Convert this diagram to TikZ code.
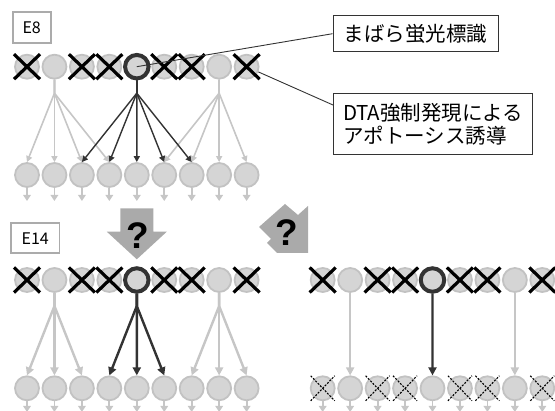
\documentclass[tikz,border=0pt]{standalone}
\usepackage{fontspec}
\setmainfont{Noto Sans CJK JP}
\newfontfamily\qfont{Liberation Sans}
\usetikzlibrary{arrows.meta,calc}
\definecolor{cellfill}{HTML}{D5D5D5}
\definecolor{celldraw}{HTML}{C2C2C2}
\definecolor{darkc}{HTML}{333333}
\definecolor{lgray}{HTML}{C6C6C6}
\definecolor{boxgray}{HTML}{ABABAB}
\definecolor{bigarrow}{HTML}{AAAAAA}
\begin{document}
\begin{tikzpicture}[x=1pt,y=-1pt,
  cell/.style={circle,fill=cellfill,draw=celldraw,line width=1.8pt,minimum size=24pt,inner sep=0pt},
  focus/.style={circle,fill=cellfill,draw=darkc,line width=4pt,minimum size=23.5pt,inner sep=0pt},
  xmark/.style={draw=black,line width=3.2pt},
  dxmark/.style={draw=black,line width=1.1pt,dash pattern=on 2pt off 1.4pt},
  garrow/.style={draw=lgray,line width=1.6pt,-{Triangle[length=6pt,width=6pt]}},
  darrow/.style={draw=darkc,line width=1.4pt,-{Triangle[length=6pt,width=6pt]}},
  gbarrow/.style={draw=lgray,line width=2.4pt,-{Triangle[length=8pt,width=8pt]}},
  dbarrow/.style={draw=darkc,line width=2.4pt,-{Triangle[length=8pt,width=8pt]}},
  stub/.style={draw=lgray,line width=1.8pt,-{Triangle[length=6pt,width=7.5pt]}},
  ebox/.style={draw=boxgray,line width=1.6pt,fill=white,inner sep=0pt,font=\fontsize{16}{18}\selectfont},
  lbox/.style={draw=darkc,line width=1.3pt,fill=white,inner sep=0pt,font=\fontsize{20.5}{23.5}\selectfont},
  leader/.style={draw=darkc,line width=0.9pt},
  qmark/.style={font=\qfont\bfseries\fontsize{37}{40}\selectfont,inner sep=0pt}
]
\useasboundingbox (0,0) rectangle (555,411);

% ---------------- top panel (E8) ----------------
\foreach \i in {0,...,8}{
  \pgfmathsetmacro\xx{27+27.45*\i}
  \node[cell] (b\i) at (\xx,175) {};
  \coordinate (bs\i) at (\xx,201);
}
\foreach \i in {0,1,2,3,5,6,7,8}{
  \pgfmathsetmacro\xx{27+27.45*\i}
  \node[cell] (a\i) at (\xx,66.7) {};
}
\node[focus] (a4) at (136.8,66.7) {};
\foreach \i in {1,4,7} \coordinate (fa\i) at ($(a\i)+(0,26.5)$);

\foreach \t in {0,...,3} \draw[garrow] (a1.south) -- (fa1) -- (b\t.north);
\foreach \t in {5,...,8} \draw[garrow] (a7.south) -- (fa7) -- (b\t.north);
\foreach \t in {2,...,6} \draw[darrow] (a4.south) -- (fa4) -- (b\t.north);
\foreach \i in {0,...,8} \draw[stub] (b\i.south) -- (bs\i);

\foreach \i in {0,2,3,5,6,8}
  \draw[xmark] ([shift={(-13,-12.5)}]a\i.center) -- ([shift={(13,12.5)}]a\i.center)
               ([shift={(-13,12.5)}]a\i.center) -- ([shift={(13,-12.5)}]a\i.center);

\node[ebox,minimum width=38pt,minimum height=31pt] (e8) at (31.7,27.8) {E8};

\node[lbox,minimum width=165pt,minimum height=36pt] (lab1) at (415.7,33.7) {まばら蛍光標識};
\node[lbox,minimum width=199pt,minimum height=61.3pt,align=left,anchor=north west] (lab2) at (333,92.7)
  {DTA強制発現による\\アポトーシス誘導};
\coordinate (lab2in) at ($(lab2.north west)+(0,12.3)$);
\draw[leader] (a4.center) -- (lab1.west);
\draw[leader] (a8) -- (lab2in);

% ---------------- big arrows ----------------
\fill[bigarrow] (120.3,208.3) -- (153.3,208.3) -- (153.3,231.7) -- (166.8,231.7)
  -- (136.8,259.3) -- (106.8,231.7) -- (120.3,231.7) -- cycle;
\node[qmark] (q1) at (138,236) {?};
\fill[bigarrow] (259,227) -- (285,204) -- (298,215) -- (308,206) -- (308,253)
  -- (277,253) -- (267,243) -- (271,239) -- cycle;
\node[qmark] (q2) at (287,233) {?};

% ---------------- bottom-left panel (E14) ----------------
\foreach \i in {0,...,8}{
  \pgfmathsetmacro\xx{27+27.45*\i}
  \node[cell] (d\i) at (\xx,388.3) {};
  \coordinate (ds\i) at (\xx,412);
}
\foreach \i in {0,1,2,3,5,6,7,8}{
  \pgfmathsetmacro\xx{27+27.45*\i}
  \node[cell] (c\i) at (\xx,280) {};
}
\node[focus] (c4) at (136.8,280) {};
\foreach \i in {1,4,7} \coordinate (fc\i) at ($(c\i)+(0,26)$);

\foreach \t in {0,...,2} \draw[gbarrow] (c1.south) -- (fc1) -- (d\t.north);
\foreach \t in {6,...,8} \draw[gbarrow] (c7.south) -- (fc7) -- (d\t.north);
\foreach \t in {3,...,5} \draw[dbarrow] (c4.south) -- (fc4) -- (d\t.north);
\foreach \i in {0,...,8} \draw[stub] (d\i.south) -- (ds\i);

\foreach \i in {0,2,3,5,6,8}
  \draw[xmark] ([shift={(-13,-12.5)}]c\i.center) -- ([shift={(13,12.5)}]c\i.center)
               ([shift={(-13,12.5)}]c\i.center) -- ([shift={(13,-12.5)}]c\i.center);

\node[ebox,minimum width=48.3pt,minimum height=30pt] (e14) at (35.2,238.3) {E14};

% ---------------- bottom-right panel ----------------
\foreach \i in {0,...,8}{
  \pgfmathsetmacro\xx{322.7+27.45*\i}
  \node[cell] (g\i) at (\xx,388.3) {};
  \coordinate (gs\i) at (\xx,412);
}
\foreach \i in {0,1,2,3,5,6,7,8}{
  \pgfmathsetmacro\xx{322.7+27.45*\i}
  \node[cell] (h\i) at (\xx,280) {};
}
\node[focus] (h4) at (432.5,280) {};

\foreach \i in {1,7} \draw[gbarrow] (h\i.south) -- (g\i.north);
\draw[dbarrow] (h4.south) -- (g4.north);
\foreach \i in {0,...,8} \draw[stub] (g\i.south) -- (gs\i);

\foreach \i in {0,2,3,5,6,8}{
  \draw[xmark] ([shift={(-13,-12.5)}]h\i.center) -- ([shift={(13,12.5)}]h\i.center)
               ([shift={(-13,12.5)}]h\i.center) -- ([shift={(13,-12.5)}]h\i.center);
  \draw[dxmark] ([shift={(-12,-12.5)}]g\i.center) -- ([shift={(12,12.5)}]g\i.center)
                ([shift={(-12,12.5)}]g\i.center) -- ([shift={(12,-12.5)}]g\i.center);
}
\end{tikzpicture}
\end{document}
